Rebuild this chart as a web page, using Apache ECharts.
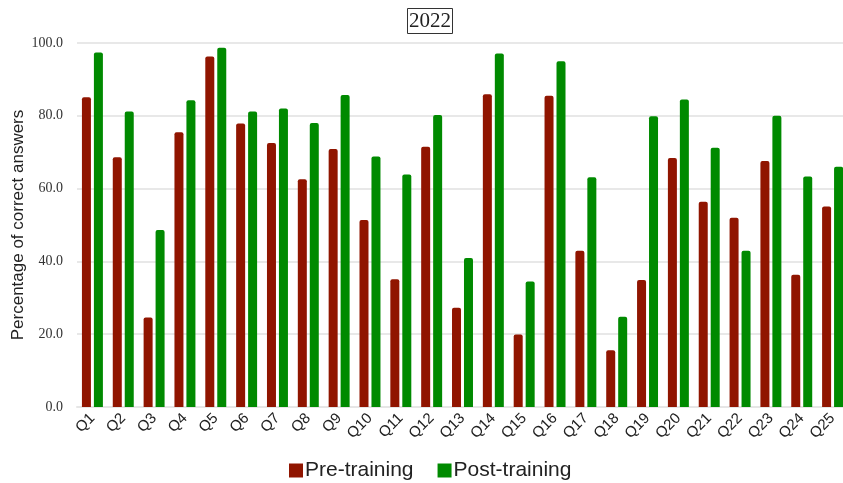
<!DOCTYPE html>
<html>
<head>
<meta charset="utf-8">
<script src="https://cdn.jsdelivr.net/npm/echarts@6/dist/echarts.min.js"></script>
<style>html,body{margin:0;padding:0;background:#fff}#c{width:843px;height:483px}</style>
</head>
<body>
<div id="c"></div>
<script>
var categories = ['Q1','Q2','Q3','Q4','Q5','Q6','Q7','Q8','Q9','Q10','Q11','Q12','Q13','Q14','Q15','Q16','Q17','Q18','Q19','Q20','Q21','Q22','Q23','Q24','Q25'];
var preTraining = [85.1, 68.6, 24.6, 75.5, 96.3, 77.9, 72.5, 62.6, 70.9, 51.4, 35.1, 71.5, 27.3, 85.9, 19.9, 85.5, 42.9, 15.6, 34.9, 68.4, 56.4, 52.0, 67.6, 36.3, 55.1];
var postTraining = [97.4, 81.2, 48.6, 84.3, 98.7, 81.2, 82.0, 78.0, 85.7, 68.8, 63.9, 80.2, 40.9, 97.1, 34.5, 95.0, 63.1, 24.8, 79.9, 84.5, 71.2, 42.9, 80.0, 63.3, 66.0];
var yTicks = {min: 0, max: 100, interval: 20};

var chart = echarts.init(document.getElementById('c'), null, {renderer: 'canvas'});
chart.setOption({
  animation: false,
  backgroundColor: '#fff',
  title: {
    text: '2022',
    left: 407,
    top: 8,
    padding: [3, 2, 2, 2],
    borderColor: '#333',
    borderWidth: 1,
    textStyle: {fontFamily: 'Liberation Serif', fontSize: 21, fontWeight: 'normal', color: '#222'}
  },
  legend: {
    top: 455,
    left: 284,
    itemWidth: 14,
    itemHeight: 14,
    itemGap: 24,
    icon: 'rect',
    textStyle: {fontFamily: 'Liberation Sans', fontSize: 21, color: '#222', padding: [0, 0, 0, -3]},
    data: ['Pre-training', 'Post-training']
  },
  grid: {left: 77, top: 43, width: 771, height: 364, containLabel: false, outerBoundsMode: 'none'},
  xAxis: {
    type: 'category',
    data: categories,
    axisTick: {show: false},
    axisLine: {show: true, lineStyle: {color: '#e6e6e6', width: 2}},
    axisLabel: {rotate: 45, interval: 0, margin: 9, fontFamily: 'Liberation Sans', fontSize: 15, color: '#222'}
  },
  yAxis: {
    type: 'value',
    min: yTicks.min,
    max: yTicks.max,
    interval: yTicks.interval,
    name: 'Percentage of correct answers',
    nameLocation: 'middle',
    nameGap: 50,
    nameMoveOverlap: false,
    nameTextStyle: {fontFamily: 'Liberation Sans', fontSize: 17, color: '#222'},
    axisLine: {show: false},
    axisTick: {show: false},
    splitLine: {lineStyle: {color: '#e8e8e8', width: 2}},
    axisLabel: {margin: 14, fontFamily: 'Liberation Serif', fontSize: 14, color: '#333', formatter: function (v) { return v.toFixed(1); }}
  },
  series: [
    {
      name: 'Pre-training',
      type: 'bar',
      data: preTraining,
      barWidth: 9,
      barGap: '33%',
      itemStyle: {color: '#901500', borderRadius: [2, 2, 0, 0]}
    },
    {
      name: 'Post-training',
      type: 'bar',
      data: postTraining,
      barWidth: 9,
      itemStyle: {color: '#008a00', borderRadius: [2, 2, 0, 0]}
    }
  ]
});
</script>
</body>
</html>
